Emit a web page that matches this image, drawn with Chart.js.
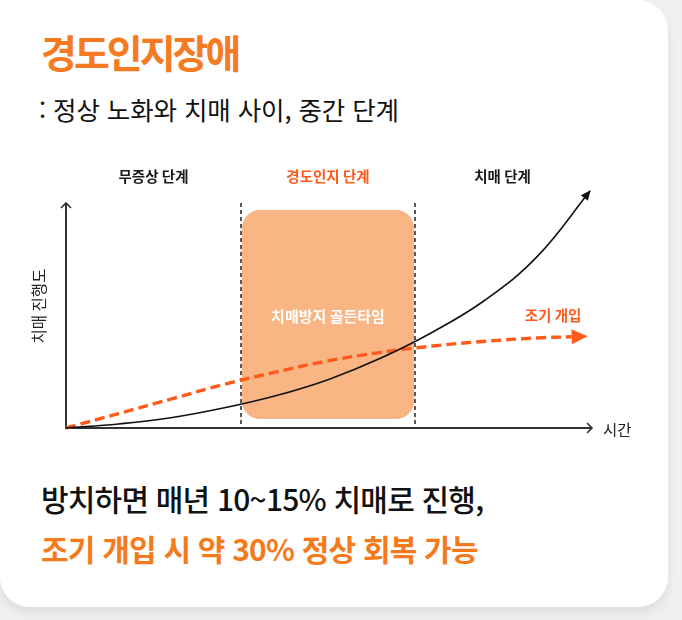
<!DOCTYPE html>
<html lang="ko">
<head>
<meta charset="utf-8">
<title>경도인지장애</title>
<script src="https://cdn.jsdelivr.net/npm/chart.js@4.4.0/dist/chart.umd.min.js"></script>
<style>
html, body { margin: 0; padding: 0; }
body {
    width: 682px; height: 620px; overflow: hidden; position: relative;
    background: #efefef;
    font-family: "Noto Sans CJK KR", "Noto Sans", sans-serif;
}
.card {
    position: absolute; left: 0; top: 0; width: 668px; height: 607px;
    background: #fff; border-radius: 0 30px 30px 30px;
    box-shadow: 0 6px 10px rgba(0,0,0,0.07);
}
.title {
    position: absolute; left: 41px; top: 24px; margin: 0;
    font-size: 39px; font-weight: 700; letter-spacing: -3px;
    color: #f57a22; line-height: 54px;
}
.sub {
    position: absolute; left: 39px; top: 91px; margin: 0;
    font-size: 25.5px; font-weight: 400; letter-spacing: -0.1px;
    color: #111; line-height: 36px;
}
.note {
    position: absolute; left: 41px; top: 473px; margin: 0;
    font-size: 30px; line-height: 50px; letter-spacing: -0.8px;
}
.note .l1 { color: #111; font-weight: 500; display: block; }
.note .l2 { color: #f57a1c; font-weight: 700; display: block; }
#stage { position: absolute; left: 0; top: 0; }
</style>
</head>
<body>
<div class="card"></div>
<h1 class="title">경도인지장애</h1>
<p class="sub">: 정상 노화와 치매 사이, 중간 단계</p>
<p class="note"><span class="l1">방치하면 매년 10~15% 치매로 진행,</span><span class="l2">조기 개입 시 약 30% 정상 회복 가능</span></p>
<canvas id="stage" width="682" height="620"></canvas>
<script>
// 단계 구분 (시간축 0~100)
var phaseBounds = [0, 33.4, 66.6, 100];
var phaseLabels = ["무증상 단계", "경도인지 단계", "치매 단계"];
var phaseColors = ["#1a1a1a", "#ff5a1a", "#1a1a1a"];

// 방치 시 진행 곡선
var naturalX = [0, 10, 20, 30, 40, 50, 60, 70, 80, 90, 100];
var naturalY = [0, 1.7, 4.3, 8.4, 13.6, 20.4, 29.4, 40.5, 54, 72.5, 100];

// 조기 개입 곡선
var earlyX = [0, 10, 20, 30, 40, 50, 60, 70, 80, 90, 96.5];
var earlyY = [0, 6.1, 12.2, 18.3, 23.6, 28.3, 31.9, 34.6, 36.6, 38.0, 38.5];

var axisXLabel = "시간";
var axisYLabel = "치매 진행도";
var boxLabel = "치매방지 골든타임";
var earlyLabel = "조기 개입";

var ORANGE = "#ff5a1a";

function toPoints(xs, ys){
    var out = [];
    for(var i = 0; i < xs.length; i++){
        out.push({x: xs[i], y: ys[i]});
    }
    return out;
}

function roundRect(ctx, x, y, w, h, r){
    ctx.beginPath();
    ctx.moveTo(x + r, y);
    ctx.lineTo(x + w - r, y);
    ctx.arcTo(x + w, y, x + w, y + r, r);
    ctx.lineTo(x + w, y + h - r);
    ctx.arcTo(x + w, y + h, x + w - r, y + h, r);
    ctx.lineTo(x + r, y + h);
    ctx.arcTo(x, y + h, x, y + h - r, r);
    ctx.lineTo(x, y + r);
    ctx.arcTo(x, y, x + r, y, r);
    ctx.closePath();
}

function headAngle(meta){
    var pts = meta.data;
    var last = pts[pts.length - 1];
    var ax = last.cp1x, ay = last.cp1y;
    if(ax === undefined || (ax === last.x && ay === last.y)){
        ax = pts[pts.length - 2].x;
        ay = pts[pts.length - 2].y;
    }
    return {x: last.x, y: last.y, a: Math.atan2(last.y - ay, last.x - ax)};
}

var stagePlugin = {
    id: "stage",
    beforeDatasetsDraw: function(chart){
        var ctx = chart.ctx;
        var area = chart.chartArea;
        var xs = chart.scales.x;
        var ys = chart.scales.y;
        var x0 = xs.getPixelForValue(0);
        var y0 = ys.getPixelForValue(0);
        var axisTop = area.top + 12;
        var axisRight = area.right + 2;
        var b1 = xs.getPixelForValue(phaseBounds[1]);
        var b2 = xs.getPixelForValue(phaseBounds[2]);

        ctx.save();
        // 골든타임 박스
        ctx.fillStyle = "#f9b584";
        roundRect(ctx, b1 + 1, area.top + 19, b2 - b1 - 2, y0 - area.top - 28, 18);
        ctx.fill();
        ctx.fillStyle = "#ffffff";
        ctx.font = "700 15px 'Noto Sans CJK KR'";
        ctx.textAlign = "center";
        ctx.textBaseline = "middle";
        ctx.fillText(boxLabel, (b1 + b2) / 2, 316);

        // 단계 구분 점선
        ctx.strokeStyle = "#111";
        ctx.lineWidth = 1.4;
        ctx.setLineDash([4, 3]);
        [b1, b2].forEach(function(bx){
            ctx.beginPath();
            ctx.moveTo(bx, axisTop);
            ctx.lineTo(bx, y0);
            ctx.stroke();
        });
        ctx.setLineDash([]);

        // 축
        ctx.strokeStyle = "#333";
        ctx.lineWidth = 2;
        ctx.beginPath();
        ctx.moveTo(x0, axisTop);
        ctx.lineTo(x0, y0);
        ctx.lineTo(axisRight, y0);
        ctx.stroke();
        ctx.lineWidth = 1.6;
        ctx.beginPath();
        ctx.moveTo(x0 - 5, axisTop + 5);
        ctx.lineTo(x0, axisTop);
        ctx.lineTo(x0 + 5, axisTop + 5);
        ctx.moveTo(axisRight - 5, y0 - 5);
        ctx.lineTo(axisRight, y0);
        ctx.lineTo(axisRight - 5, y0 + 5);
        ctx.stroke();

        // 축 라벨
        ctx.fillStyle = "#222";
        ctx.font = "400 15.5px 'Noto Sans CJK KR'";
        ctx.textAlign = "left";
        ctx.fillText(axisXLabel, axisRight + 11, y0 + 2);
        ctx.save();
        ctx.translate(39, 306);
        ctx.rotate(-Math.PI / 2);
        ctx.textAlign = "center";
        ctx.fillText(axisYLabel, 0, 0);
        ctx.restore();

        // 단계 라벨
        ctx.font = "700 14.5px 'Noto Sans CJK KR'";
        ctx.textAlign = "center";
        for(var i = 0; i < phaseLabels.length; i++){
            var cx = (xs.getPixelForValue(phaseBounds[i]) + xs.getPixelForValue(phaseBounds[i + 1])) / 2;
            ctx.fillStyle = phaseColors[i];
            ctx.fillText(phaseLabels[i], cx, 176);
        }
        ctx.restore();
    },
    afterDatasetsDraw: function(chart){
        var ctx = chart.ctx;
        ctx.save();
        // 방치 곡선 화살촉
        var h = headAngle(chart.getDatasetMeta(0));
        ctx.fillStyle = "#111";
        ctx.translate(h.x, h.y);
        ctx.rotate(h.a);
        ctx.beginPath();
        ctx.moveTo(1, 0);
        ctx.lineTo(-9, -4.5);
        ctx.lineTo(-9, 4.5);
        ctx.closePath();
        ctx.fill();
        ctx.restore();

        // 조기 개입 화살촉
        ctx.save();
        var e = headAngle(chart.getDatasetMeta(1));
        ctx.fillStyle = ORANGE;
        ctx.translate(e.x, e.y);
        ctx.rotate(e.a);
        ctx.beginPath();
        ctx.moveTo(16, 0);
        ctx.lineTo(0, -7.5);
        ctx.lineTo(0, 7.5);
        ctx.closePath();
        ctx.fill();
        ctx.restore();

        ctx.save();
        ctx.fillStyle = ORANGE;
        ctx.font = "700 14.5px 'Noto Sans CJK KR'";
        ctx.textAlign = "center";
        ctx.textBaseline = "middle";
        ctx.fillText(earlyLabel, 553, 315);
        ctx.restore();
    }
};

var ctx = document.getElementById("stage").getContext("2d");
new Chart(ctx, {
    type: "line",
    data: {
        datasets: [{
            label: "방치",
            data: toPoints(naturalX, naturalY),
            borderColor: "#111",
            borderWidth: 1.6,
            pointRadius: 0,
            fill: false,
            tension: 0.4,
            clip: false
        }, {
            label: earlyLabel,
            data: toPoints(earlyX, earlyY),
            borderColor: ORANGE,
            borderWidth: 3.4,
            borderDash: [10, 5],
            pointRadius: 0,
            fill: false,
            tension: 0.4,
            clip: false
        }]
    },
    options: {
        responsive: false,
        animation: false,
        layout: { padding: { left: 66, right: 92, top: 191, bottom: 192 } },
        scales: {
            x: { type: "linear", min: 0, max: 100, display: false },
            y: { type: "linear", min: 0, max: 100, display: false }
        },
        plugins: {
            legend: { display: false },
            tooltip: { enabled: false }
        }
    },
    plugins: [stagePlugin]
});
</script>
</body>
</html>
